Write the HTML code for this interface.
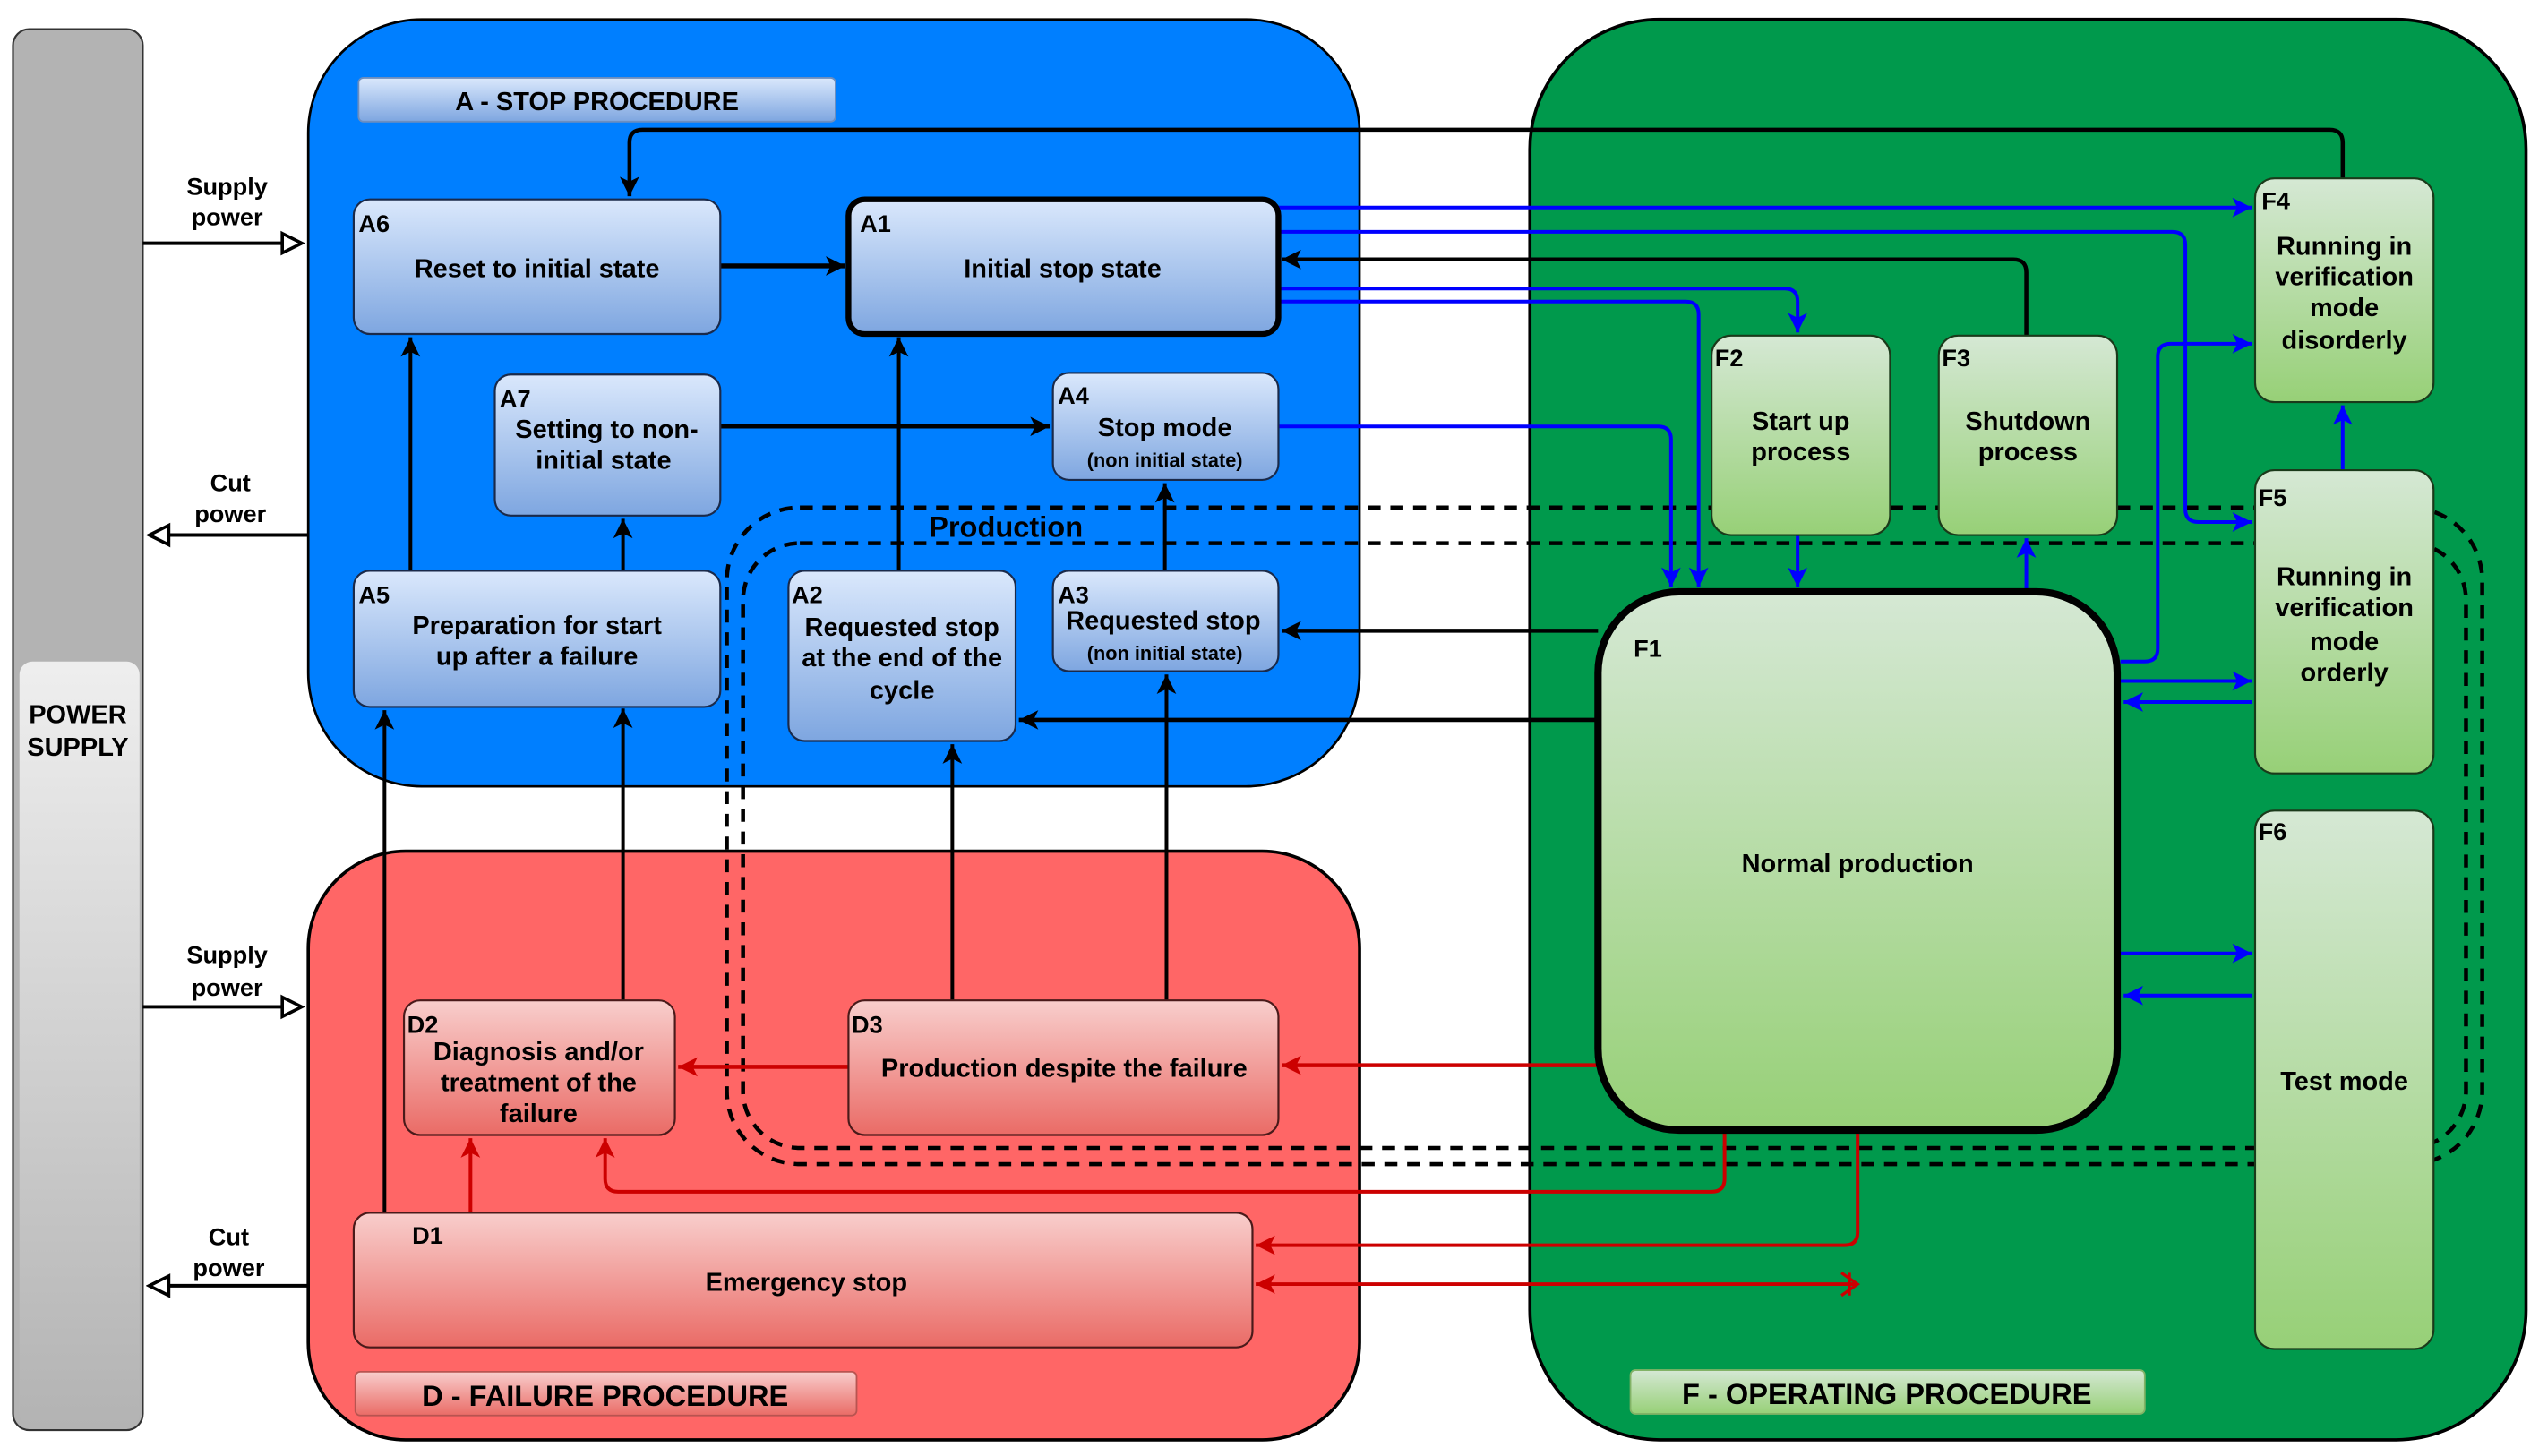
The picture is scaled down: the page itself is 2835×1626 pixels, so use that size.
<!DOCTYPE html>
<html><head><meta charset="utf-8"><style>
html,body{margin:0;padding:0;background:#fff;}
svg{display:block;}
text{font-family:"Liberation Sans",sans-serif;font-weight:bold;fill:#000;}
</style></head><body>
<svg width="2835" height="1626" viewBox="0 0 1565 898" preserveAspectRatio="none" xmlns="http://www.w3.org/2000/svg">
<defs>
<linearGradient id="gb" x1="0" y1="0" x2="0" y2="1"><stop offset="0" stop-color="#dae8fc"/><stop offset="1" stop-color="#7ea6e0"/></linearGradient>
<linearGradient id="gg" x1="0" y1="0" x2="0" y2="1"><stop offset="0" stop-color="#d5e8d4"/><stop offset="1" stop-color="#97d077"/></linearGradient>
<linearGradient id="gr" x1="0" y1="0" x2="0" y2="1"><stop offset="0" stop-color="#f8cecc"/><stop offset="1" stop-color="#ea6b66"/></linearGradient>
<linearGradient id="gp" x1="0" y1="0" x2="0" y2="1"><stop offset="0" stop-color="#f5f5f5"/><stop offset="1" stop-color="#b3b3b3"/></linearGradient>
<marker id="mk" markerUnits="userSpaceOnUse" markerWidth="14" markerHeight="14" refX="12" refY="7" orient="auto"><path d="M0,1 L12,7 L0,13 L3,7 Z" fill="#000"/></marker>
<marker id="mb" markerUnits="userSpaceOnUse" markerWidth="14" markerHeight="14" refX="12" refY="7" orient="auto"><path d="M0,1 L12,7 L0,13 L3,7 Z" fill="#0000ff"/></marker>
<marker id="mr" markerUnits="userSpaceOnUse" markerWidth="14" markerHeight="14" refX="12" refY="7" orient="auto"><path d="M0,1 L12,7 L0,13 L3,7 Z" fill="#cc0000"/></marker>
<marker id="mh" markerUnits="userSpaceOnUse" markerWidth="16" markerHeight="16" refX="14" refY="8" orient="auto"><path d="M2,2 L14,8 L2,14 Z" fill="#fff" stroke="#000" stroke-width="2"/></marker>
</defs>

<!-- power supply -->
<rect x="8" y="18" width="80" height="864" rx="10" fill="#b3b3b3" stroke="#333" stroke-width="1.2"/>
<rect x="12" y="408" width="74" height="472" rx="8" fill="url(#gp)" opacity="0.9"/>
<text x="48" y="446" font-size="16" text-anchor="middle">POWER</text>
<text x="48" y="466" font-size="16" text-anchor="middle">SUPPLY</text>

<!-- containers -->
<rect x="190" y="12" width="648" height="473" rx="70" fill="#007fff" stroke="#000" stroke-width="1.5"/>
<rect x="190" y="525" width="648" height="363" rx="60" fill="#ff6666" stroke="#000" stroke-width="2"/>
<rect x="943" y="12" width="614" height="876" rx="80" fill="#00994c" stroke="#000" stroke-width="2"/>

<rect x="221" y="48" width="294" height="27" rx="3" fill="url(#gb)" stroke="#6c8ebf" stroke-width="1"/>
<text x="368" y="68" font-size="16" text-anchor="middle">A - STOP PROCEDURE</text>
<rect x="219" y="846" width="309" height="27" rx="3" fill="url(#gr)" stroke="#b85450" stroke-width="1"/>
<text x="373" y="867" font-size="18" text-anchor="middle">D - FAILURE PROCEDURE</text>
<rect x="1005" y="845" width="317" height="27" rx="3" fill="url(#gg)" stroke="#82b366" stroke-width="1"/>
<text x="1163" y="866" font-size="18" text-anchor="middle">F - OPERATING PROCEDURE</text>

<!-- dashed production loops -->
<g fill="none" stroke="#000" stroke-width="2.5" stroke-dasharray="8,6">
<rect x="448" y="313" width="1082" height="405" rx="45"/>
<rect x="458" y="335" width="1062" height="373" rx="35"/>
</g>
<text x="620" y="331" font-size="18" text-anchor="middle">Production</text>

<!-- lines -->
<g fill="none" stroke-width="2.2">
<path d="M88,150 H186" stroke="#000" marker-end="url(#mh)"/>
<path d="M190,330 H92" stroke="#000" marker-end="url(#mh)"/>
<path d="M88,621 H186" stroke="#000" marker-end="url(#mh)"/>
<path d="M190,793 H92" stroke="#000" marker-end="url(#mh)"/>

<path d="M444,164 H521" stroke="#000" stroke-width="3" marker-end="url(#mk)"/>
<path d="M1444,110 V88 Q1444,80 1436,80 H396 Q388,80 388,88 V121" stroke="#000" stroke-width="2.5" marker-end="url(#mk)"/>
<path d="M444,263 H647" stroke="#000" stroke-width="2.5" marker-end="url(#mk)"/>
<path d="M253,352 V208" stroke="#000" marker-end="url(#mk)"/>
<path d="M384,352 V320" stroke="#000" marker-end="url(#mk)"/>
<path d="M554,352 V208" stroke="#000" marker-end="url(#mk)"/>
<path d="M718,352 V298" stroke="#000" marker-end="url(#mk)"/>
<path d="M985,389 H790" stroke="#000" stroke-width="2.5" marker-end="url(#mk)"/>
<path d="M985,444 H628" stroke="#000" stroke-width="2.5" marker-end="url(#mk)"/>
<path d="M237,748 V438" stroke="#000" marker-end="url(#mk)"/>
<path d="M384,617 V437" stroke="#000" marker-end="url(#mk)"/>
<path d="M587,617 V459" stroke="#000" marker-end="url(#mk)"/>
<path d="M719,617 V416" stroke="#000" marker-end="url(#mk)"/>
<path d="M1249,207 V168 Q1249,160 1241,160 H790" stroke="#000" stroke-width="2.5" marker-end="url(#mk)"/>

<path d="M290,748 V702" stroke="#cc0000" marker-end="url(#mr)"/>
<path d="M523,658 H418" stroke="#cc0000" stroke-width="2.5" marker-end="url(#mr)"/>
<path d="M985,657 H790" stroke="#cc0000" stroke-width="2.5" marker-end="url(#mr)"/>
<path d="M1063,697 V727 Q1063,735 1055,735 H381 Q373,735 373,727 V702" stroke="#cc0000" marker-end="url(#mr)"/>
<path d="M1145,697 V760 Q1145,768 1137,768 H774" stroke="#cc0000" marker-end="url(#mr)"/>
<path d="M1145,792 H774" stroke="#cc0000" marker-end="url(#mr)"/>
<path d="M1135,785 L1145,792 L1135,799 M1140,785 L1140,799" stroke="#cc0000" stroke-width="1.8"/>

<path d="M788,128 H1388" stroke="#0000ff" marker-end="url(#mb)"/>
<path d="M788,143 H1339 Q1347,143 1347,151 V314 Q1347,322 1355,322 H1388" stroke="#0000ff" marker-end="url(#mb)"/>
<path d="M788,178 H1100 Q1108,178 1108,186 V205" stroke="#0000ff" marker-end="url(#mb)"/>
<path d="M788,186 H1039 Q1047,186 1047,194 V362" stroke="#0000ff" marker-end="url(#mb)"/>
<path d="M788,263 H1022 Q1030,263 1030,271 V362" stroke="#0000ff" marker-end="url(#mb)"/>
<path d="M1108,330 V362" stroke="#0000ff" marker-end="url(#mb)"/>
<path d="M1249,363 V332" stroke="#0000ff" marker-end="url(#mb)"/>
<path d="M1444,290 V250" stroke="#0000ff" marker-end="url(#mb)"/>
<path d="M1307,408 H1322 Q1330,408 1330,400 V220 Q1330,212 1338,212 H1388" stroke="#0000ff" marker-end="url(#mb)"/>
<path d="M1307,420 H1388" stroke="#0000ff" marker-end="url(#mb)"/>
<path d="M1388,433 H1309" stroke="#0000ff" marker-end="url(#mb)"/>
<path d="M1307,588 H1388" stroke="#0000ff" marker-end="url(#mb)"/>
<path d="M1388,614 H1309" stroke="#0000ff" marker-end="url(#mb)"/>
</g>

<!-- A boxes -->
<g stroke="#1a2a4a" stroke-width="1.2" fill="url(#gb)">
<rect x="218" y="123" width="226" height="83" rx="10"/>
<rect x="523" y="123" width="265" height="83" rx="10" stroke="#000" stroke-width="3.5"/>
<rect x="305" y="231" width="139" height="87" rx="10"/>
<rect x="649" y="230" width="139" height="66" rx="10"/>
<rect x="218" y="352" width="226" height="84" rx="10"/>
<rect x="486" y="352" width="140" height="105" rx="10"/>
<rect x="649" y="352" width="139" height="62" rx="10"/>
</g>
<g font-size="16">
<text x="221" y="143" font-size="15">A6</text><text x="331" y="171" text-anchor="middle">Reset to initial state</text>
<text x="530" y="143" font-size="15">A1</text><text x="655" y="171" text-anchor="middle">Initial stop state</text>
<text x="308" y="251" font-size="15">A7</text><text x="374" y="270" text-anchor="middle">Setting to non-</text><text x="372" y="289" text-anchor="middle">initial state</text>
<text x="652" y="249" font-size="15">A4</text><text x="718" y="269" text-anchor="middle">Stop mode</text><text x="718" y="288" text-anchor="middle" font-size="12">(non initial state)</text>
<text x="221" y="372" font-size="15">A5</text><text x="331" y="391" text-anchor="middle">Preparation for start</text><text x="331" y="410" text-anchor="middle">up after a failure</text>
<text x="488" y="372" font-size="15">A2</text><text x="556" y="392" text-anchor="middle">Requested stop</text><text x="556" y="411" text-anchor="middle">at the end of the</text><text x="556" y="431" text-anchor="middle">cycle</text>
<text x="652" y="372" font-size="15">A3</text><text x="717" y="388" text-anchor="middle">Requested stop</text><text x="718" y="407" text-anchor="middle" font-size="12">(non initial state)</text>
</g>

<!-- D boxes -->
<g stroke="#4a1a1a" stroke-width="1.2" fill="url(#gr)">
<rect x="249" y="617" width="167" height="83" rx="10"/>
<rect x="523" y="617" width="265" height="83" rx="10"/>
<rect x="218" y="748" width="554" height="83" rx="10"/>
</g>
<g font-size="16">
<text x="251" y="637" font-size="15">D2</text><text x="332" y="654" text-anchor="middle">Diagnosis and/or</text><text x="332" y="673" text-anchor="middle">treatment of the</text><text x="332" y="692" text-anchor="middle">failure</text>
<text x="525" y="637" font-size="15">D3</text><text x="656" y="664" text-anchor="middle">Production despite the failure</text>
<text x="254" y="767" font-size="15">D1</text><text x="497" y="796" text-anchor="middle">Emergency stop</text>
</g>

<!-- F boxes -->
<g stroke="#1a3a1a" stroke-width="1.2" fill="url(#gg)">
<rect x="1390" y="110" width="110" height="138" rx="12"/>
<rect x="1390" y="290" width="110" height="187" rx="12"/>
<rect x="1390" y="500" width="110" height="332" rx="12"/>
<rect x="1055" y="207" width="110" height="123" rx="12"/>
<rect x="1195" y="207" width="110" height="123" rx="12"/>
<rect x="985" y="365" width="320" height="332" rx="50" stroke="#000" stroke-width="4.5"/>
</g>
<g font-size="16">
<text x="1394" y="129" font-size="15">F4</text><text x="1445" y="157" text-anchor="middle">Running in</text><text x="1445" y="176" text-anchor="middle">verification</text><text x="1445" y="195" text-anchor="middle">mode</text><text x="1445" y="215" text-anchor="middle">disorderly</text>
<text x="1392" y="312" font-size="15">F5</text><text x="1445" y="361" text-anchor="middle">Running in</text><text x="1445" y="380" text-anchor="middle">verification</text><text x="1445" y="401" text-anchor="middle">mode</text><text x="1445" y="420" text-anchor="middle">orderly</text>
<text x="1392" y="518" font-size="15">F6</text><text x="1445" y="672" text-anchor="middle">Test mode</text>
<text x="1057" y="226" font-size="15">F2</text><text x="1110" y="265" text-anchor="middle">Start up</text><text x="1110" y="284" text-anchor="middle">process</text>
<text x="1197" y="226" font-size="15">F3</text><text x="1250" y="265" text-anchor="middle">Shutdown</text><text x="1250" y="284" text-anchor="middle">process</text>
<text x="1007" y="405" font-size="15">F1</text><text x="1145" y="538" text-anchor="middle">Normal production</text>
</g>

<!-- power labels -->
<g font-size="15" text-anchor="middle">
<text x="140" y="120">Supply</text><text x="140" y="139">power</text>
<text x="142" y="303">Cut</text><text x="142" y="322">power</text>
<text x="140" y="594">Supply</text><text x="140" y="614">power</text>
<text x="141" y="768">Cut</text><text x="141" y="787">power</text>
</g>
</svg>
</body></html>
